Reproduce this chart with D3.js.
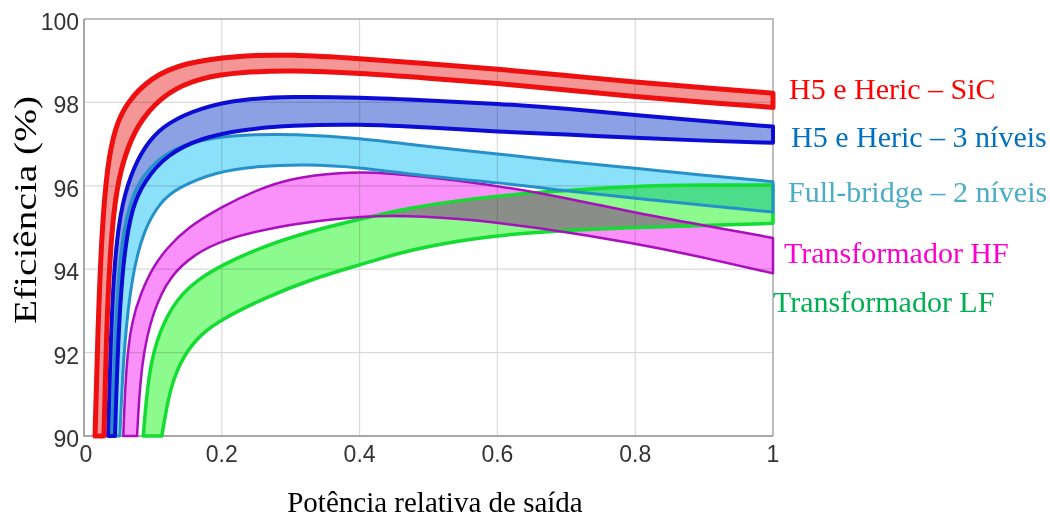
<!DOCTYPE html>
<html>
<head>
<meta charset="utf-8">
<script src="https://cdn.jsdelivr.net/npm/d3@7"></script>
<style>
  body { margin: 0; background: #fff; }
  svg { display: block; }
</style>
</head>
<body>
<svg id="chart" width="1050" height="518"></svg>
<script>

// eficiencia (%) x potencia relativa, limite superior e inferior de cada faixa
var sicUpper = [[0.016, 90], [0.02, 92.5], [0.026, 95.0], [0.034, 96.5], [0.045, 97.4], [0.062, 98.0], [0.097, 98.6], [0.145, 98.95], [0.22, 99.12], [0.3, 99.15], [0.4, 99.05], [0.5, 98.93], [0.6, 98.8], [0.7, 98.65], [0.8, 98.48], [0.9, 98.35], [1, 98.22]];
var sicLower = [[0.029, 90], [0.033, 92.8], [0.04, 95.0], [0.05, 96.2], [0.065, 97.0], [0.083, 97.6], [0.12, 98.25], [0.17, 98.6], [0.23, 98.73], [0.3, 98.77], [0.4, 98.7], [0.5, 98.58], [0.6, 98.46], [0.7, 98.3], [0.8, 98.14], [0.9, 98.0], [1, 97.88]];

var n3Upper = [[0.035, 90], [0.039, 92.5], [0.045, 94.4], [0.055, 95.6], [0.073, 96.5], [0.095, 97.1], [0.12, 97.5], [0.17, 97.88], [0.23, 98.08], [0.3, 98.14], [0.4, 98.12], [0.5, 98.05], [0.6, 97.97], [0.7, 97.85], [0.8, 97.7], [0.9, 97.55], [1, 97.42]];
var n3Lower = [[0.045, 90], [0.05, 92.6], [0.058, 94.4], [0.07, 95.5], [0.087, 96.1], [0.12, 96.75], [0.17, 97.15], [0.23, 97.35], [0.3, 97.45], [0.4, 97.48], [0.5, 97.4], [0.6, 97.3], [0.7, 97.23], [0.8, 97.15], [0.9, 97.08], [1, 97.03]];

var fbUpper = [[0.04, 90], [0.045, 92.5], [0.052, 94.4], [0.064, 95.5], [0.083, 96.25], [0.126, 96.92], [0.19, 97.17], [0.25, 97.23], [0.3, 97.24], [0.4, 97.15], [0.5, 96.93], [0.6, 96.77], [0.7, 96.58], [0.8, 96.42], [0.9, 96.25], [1, 96.1]];
var fbLower = [[0.052, 90], [0.058, 92.2], [0.07, 93.9], [0.087, 94.95], [0.11, 95.6], [0.135, 95.95], [0.19, 96.33], [0.25, 96.47], [0.32, 96.52], [0.4, 96.45], [0.5, 96.22], [0.6, 96.08], [0.7, 95.88], [0.8, 95.7], [0.9, 95.53], [1, 95.37]];

var hfUpper = [[0.057, 90], [0.061, 91.7], [0.069, 92.75], [0.083, 93.45], [0.1, 94.05], [0.12, 94.5], [0.15, 95.0], [0.2, 95.5], [0.25, 95.9], [0.3, 96.18], [0.37, 96.33], [0.44, 96.32], [0.54, 96.14], [0.66, 95.85], [0.8, 95.35], [0.9, 95.05], [1, 94.75]];
var hfLower = [[0.077, 90], [0.083, 91.8], [0.1, 93.0], [0.125, 93.85], [0.16, 94.35], [0.2, 94.7], [0.28, 95.03], [0.37, 95.22], [0.44, 95.3], [0.54, 95.23], [0.66, 95.0], [0.8, 94.62], [0.9, 94.28], [1, 93.9]];

var lfUpper = [[0.086, 90], [0.094, 91.6], [0.11, 92.55], [0.135, 93.3], [0.165, 93.75], [0.2, 94.1], [0.26, 94.55], [0.33, 94.92], [0.4, 95.2], [0.47, 95.47], [0.565, 95.7], [0.66, 95.85], [0.8, 96.0], [0.9, 96.02], [1, 96.02]];
var lfLower = [[0.113, 90], [0.125, 91.2], [0.145, 91.95], [0.17, 92.45], [0.2, 92.8], [0.26, 93.3], [0.333, 93.78], [0.4, 94.1], [0.47, 94.46], [0.565, 94.75], [0.66, 94.9], [0.8, 95.0], [0.9, 95.05], [1, 95.1]];

var seriesNames = ["H5 e Heric – SiC", "H5 e Heric – 3 níveis", "Full-bridge – 2 níveis", "Transformador HF", "Transformador LF"];
var xTicks = [0, 0.2, 0.4, 0.6, 0.8, 1];
var yTicks = [90, 92, 94, 96, 98, 100];


var svg = d3.select("#chart");
var plotLeft = 84, plotRight = 773, plotTop = 19, plotBottom = 436;

var x = d3.scaleLinear().domain([0, 1]).range([plotLeft, plotRight]);
var y = d3.scaleLinear().domain([90, 100]).range([plotBottom, plotTop]);

// grade
svg.append("g").selectAll("line").data(xTicks.slice(1, -1)).enter().append("line")
    .attr("x1", function(d) { return x(d); }).attr("x2", function(d) { return x(d); })
    .attr("y1", plotTop).attr("y2", plotBottom)
    .attr("stroke", "#dadada").attr("stroke-width", 1.2);

svg.append("g").selectAll("line").data(yTicks.slice(1, -1)).enter().append("line")
    .attr("x1", plotLeft).attr("x2", plotRight)
    .attr("y1", function(d) { return y(d); }).attr("y2", function(d) { return y(d); })
    .attr("stroke", "#dadada").attr("stroke-width", 1.2);

// moldura
svg.append("path").attr("d", "M" + plotLeft + "," + plotTop + "H" + plotRight + "V" + plotBottom)
    .attr("fill", "none").attr("stroke", "#a8a8a8").attr("stroke-width", 1.5);
svg.append("path").attr("d", "M" + plotLeft + "," + plotTop + "V" + plotBottom + "H" + plotRight)
    .attr("fill", "none").attr("stroke", "#8a8a8a").attr("stroke-width", 1.5);

var bands = [
    {upper: lfUpper, lower: lfLower, fill: "rgb(140,250,140)", stroke: "#14dc32", width: 3.5},
    {upper: hfUpper, lower: hfLower, fill: "rgb(250,145,250)", stroke: "#a810bc", width: 2.5},
    {upper: fbUpper, lower: fbLower, fill: "rgb(140,225,250)", stroke: "#2690c8", width: 3},
    {upper: n3Upper, lower: n3Lower, fill: "rgb(140,160,228)", stroke: "#0c0cd4", width: 4},
    {upper: sicUpper, lower: sicLower, fill: "rgb(244,150,150)", stroke: "#ee1010", width: 5}
];

var line = d3.line()
    .x(function(d) { return x(d[0]); })
    .y(function(d) { return y(d[1]); })
    .curve(d3.curveBasis);

function bandPath(b) {
    var back = b.lower.slice().reverse();
    return line(b.upper) + "L" + line(back).slice(1) + "Z";
}

var plot = svg.append("g");

plot.selectAll("path.fill").data(bands).enter().append("path")
    .attr("class", "fill")
    .attr("d", bandPath)
    .attr("fill", function(d) { return d.fill; })
    .style("mix-blend-mode", "multiply");

plot.selectAll("path.edge").data(bands).enter().append("path")
    .attr("class", "edge")
    .attr("d", bandPath)
    .attr("fill", "none")
    .attr("stroke", function(d) { return d.stroke; })
    .attr("stroke-width", function(d) { return d.width; })
    .attr("stroke-linejoin", "round");

// eixos
svg.append("g").selectAll("text").data(yTicks).enter().append("text")
    .attr("x", 79).attr("y", function(d) { return y(d) + 11; })
    .attr("text-anchor", "end")
    .style("font-family", "'Liberation Sans', Arial, sans-serif").style("font-size", "23px")
    .attr("fill", "#333")
    .text(function(d) { return d; });

svg.append("g").selectAll("text").data(xTicks).enter().append("text")
    .attr("x", function(d) { return x(d) + (d === 0 ? 2 : 0); }).attr("y", 462)
    .attr("text-anchor", "middle")
    .style("font-family", "'Liberation Sans', Arial, sans-serif").style("font-size", "23px")
    .attr("fill", "#333")
    .text(function(d) { return d; });

svg.append("text")
    .attr("transform", "translate(36,210) rotate(-90)")
    .attr("text-anchor", "middle")
    .attr("textLength", 228).attr("lengthAdjust", "spacingAndGlyphs")
    .style("font-family", "'Liberation Serif', 'Times New Roman', serif").style("font-size", "31px")
    .attr("fill", "#000")
    .text("Eficiência (%)");

svg.append("text")
    .attr("x", 435).attr("y", 512)
    .attr("text-anchor", "middle")
    .style("font-family", "'Liberation Serif', 'Times New Roman', serif").style("font-size", "29px")
    .attr("fill", "#000")
    .text("Potência relativa de saída");

// rotulos das faixas
var labelX = [789, 791, 788, 784, 773];
var labelY = [99, 147, 202, 263, 312];
var labelColor = ["#ff0000", "#0070c0", "#4bacc6", "#ff00cc", "#00b050"];

svg.append("g").selectAll("text").data(seriesNames).enter().append("text")
    .attr("x", function(d, i) { return labelX[i]; })
    .attr("y", function(d, i) { return labelY[i]; })
    .style("font-family", "'Liberation Serif', 'Times New Roman', serif").style("font-size", "30px")
    .attr("fill", function(d, i) { return labelColor[i]; })
    .text(function(d) { return d; });

</script>
</body>
</html>
